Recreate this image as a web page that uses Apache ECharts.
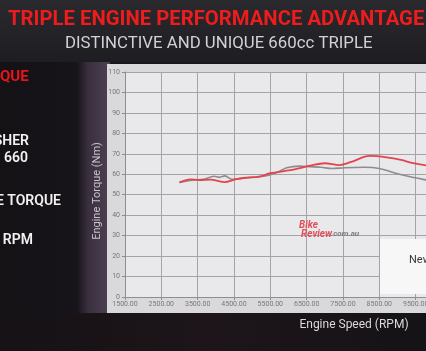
<!DOCTYPE html>
<html><head><meta charset="utf-8">
<script src="https://cdn.jsdelivr.net/npm/echarts@6/dist/echarts.min.js"></script>
<style>html,body{margin:0;padding:0;background:#1a1619;}#c{width:426px;height:351px;}</style>
</head><body><div id="c"></div>
<script>
const yTicks = [0,10,20,30,40,50,60,70,80,90,100,110];
const newRpm = [3000,3300,3550,3850,4250,4530,4800,5200,5500,6050,6600,7000,7400,7700,8100,8250,8700,9100,9430,9800,10200];
const newTorque = [56,57.5,57.2,57.4,56.2,57.5,58.3,58.8,60.5,62,64.2,65.4,64.5,65.9,68.6,69,68.3,67,65.4,64.3,63.5];
const oldRpm = [3000,3300,3650,3950,4100,4250,4450,4700,5100,5400,5700,5950,6300,6600,6900,7200,7550,8100,8500,8950,9350,9800,10200];
const oldTorque = [56,57,57.5,59,58.5,59.2,57.5,58,58.7,59.3,61,63.2,64,63.7,63.4,62.8,63.2,63.4,62.8,60.5,58.8,57.2,55.8];

const chart = echarts.init(document.getElementById('c'));
const pair = (xs, ys) => xs.map((x, i) => [x, ys[i]]);
const FONT = 'Roboto, "Liberation Sans", sans-serif';
chart.setOption({
  backgroundColor: '#1a1619',
  animation: false,
  grid: { left: 125, top: 72, width: 327, height: 225, show: true, backgroundColor: '#e9e9eb', borderWidth: 0,
          containLabel: false, outerBoundsMode: 'none' },
  xAxis: {
    type: 'value', min: 1500, max: 10500, interval: 1000,
    axisLine: { show: true, lineStyle: { color: '#8e8e92', width: 1 } },
    axisTick: { show: true, length: 3, lineStyle: { color: '#8e8e92' } },
    axisLabel: { color: '#77777b', fontSize: 7, margin: 4, fontFamily: FONT, formatter: v => v.toFixed(2), hideOverlap: false },
    splitLine: { show: true, lineStyle: { color: '#a3a3a8', width: 1 } }
  },
  yAxis: {
    type: 'value', min: 0, max: 110, interval: 10,
    axisLine: { show: true, lineStyle: { color: '#8e8e92', width: 1 } },
    axisTick: { show: true, length: 3, lineStyle: { color: '#8e8e92' } },
    axisLabel: { color: '#77777b', fontSize: 7, margin: 5, fontFamily: FONT },
    splitLine: { show: true, lineStyle: { color: '#a3a3a8', width: 1 } }
  },
  series: [
    { name: 'Old', type: 'line', data: pair(oldRpm, oldTorque), smooth: 0.3, showSymbol: false,
      lineStyle: { color: '#8d8d90', width: 1.6 }, z: 3 },
    { name: 'New', type: 'line', data: pair(newRpm, newTorque), smooth: 0.3, showSymbol: false,
      lineStyle: { color: '#e5434d', width: 1.8 }, z: 4 }
  ],
  graphic: [
    { type: 'rect', z: -10, silent: true, shape: { x: 0, y: 0, width: 426, height: 62 },
      style: { fill: new echarts.graphic.LinearGradient(0, 0, 0, 1, [{ offset: 0, color: '#2a292e' }, { offset: 1, color: '#1e1d22' }]) } },
    { type: 'rect', z: -10, silent: true, shape: { x: 0, y: 62, width: 110, height: 289 },
      style: { fill: new echarts.graphic.LinearGradient(0, 0, 1, 0, [{ offset: 0, color: '#141215' }, { offset: 0.7, color: '#17141a' }, { offset: 0.8, color: '#3a2f3e' }, { offset: 1, color: '#4d4253' }]) } },
    { type: 'rect', z: -10, silent: true, shape: { x: 0, y: 313, width: 426, height: 38 },
      style: { fill: new echarts.graphic.LinearGradient(0, 0, 1, 0, [{ offset: 0, color: '#161215' }, { offset: 0.5, color: '#1d1519' }, { offset: 1, color: '#151316' }]) } },
    { type: 'rect', z: -5, silent: true, shape: { x: 107, y: 64, width: 330, height: 249 },
      style: { fill: '#d9d9db' } },
    { type: 'text', z: 10, left: 8, top: 10, style: { text: 'TRIPLE ENGINE PERFORMANCE ADVANTAGE', fill: '#ee1c1c', font: 'bold 20.3px ' + FONT } },
    { type: 'text', z: 10, left: 65, top: 35, style: { text: 'DISTINCTIVE AND UNIQUE 660cc TRIPLE', fill: '#d2d2d4', font: '16.8px ' + FONT } },
    { type: 'text', z: 10, x: 0, y: 77, style: { text: 'QUE', fill: '#e8141a', font: 'bold 15px ' + FONT, verticalAlign: 'middle' } },
    { type: 'text', z: 10, x: 29, y: 141, style: { text: 'SHER', fill: '#f2f2f2', font: '600 14px ' + FONT, align: 'right', verticalAlign: 'middle' } },
    { type: 'text', z: 10, x: 28, y: 158, style: { text: '660', fill: '#f2f2f2', font: '600 14px ' + FONT, align: 'right', verticalAlign: 'middle' } },
    { type: 'text', z: 10, x: 61, y: 201, style: { text: 'E TORQUE', fill: '#f2f2f2', font: '600 14px ' + FONT, align: 'right', verticalAlign: 'middle' } },
    { type: 'text', z: 10, x: 33, y: 240, style: { text: 'RPM', fill: '#f2f2f2', font: '600 14px ' + FONT, align: 'right', verticalAlign: 'middle' } },
    { type: 'text', z: 10, x: 97, y: 191, rotation: Math.PI / 2, style: { text: 'Engine Torque (Nm)', fill: '#c9c2ca', font: '11px ' + FONT, align: 'center', verticalAlign: 'middle' } },
    { type: 'text', z: 10, x: 354, y: 325, style: { text: 'Engine Speed (RPM)', fill: '#dadada', font: '12px ' + FONT, align: 'center', verticalAlign: 'middle' } },
    { type: 'rect', z: 10, silent: true, shape: { x: 380, y: 239, width: 60, height: 55 }, style: { fill: '#f7f7f8' } },
    { type: 'text', z: 11, x: 409, y: 260, style: { text: 'New', fill: '#3a3a3c', font: '11px ' + FONT, verticalAlign: 'middle' } },
    { type: 'text', z: 11, x: 299, y: 225, style: { text: 'Bike', fill: '#e0505a', font: 'italic bold 10px ' + FONT, verticalAlign: 'middle' } },
    { type: 'text', z: 11, x: 301, y: 234, style: { text: 'Review', fill: '#e0505a', font: 'italic bold 10px ' + FONT, verticalAlign: 'middle' } },
    { type: 'text', z: 11, x: 331, y: 234, style: { text: '.com.au', fill: '#7a7a80', font: 'italic bold 8px ' + FONT, verticalAlign: 'middle' } }
  ]
});
</script></body></html>
